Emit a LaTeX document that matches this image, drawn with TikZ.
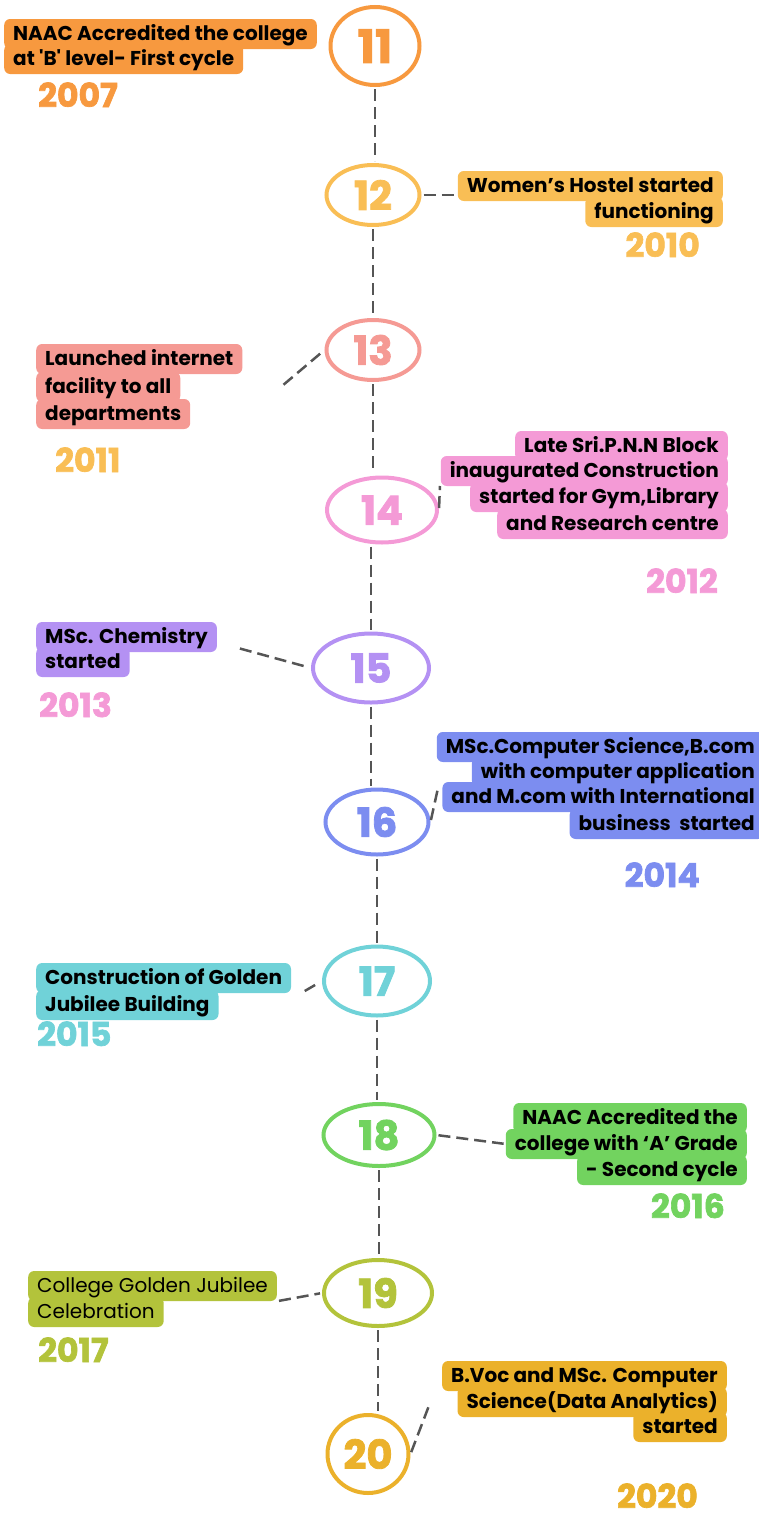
\documentclass[tikz,border=0pt]{standalone}
\usepackage{fontspec}
\setmainfont{Poppins}
\newfontfamily\heavyfont{Poppins}[BoldFeatures={FakeBold=2}]
\usepackage{tikz}
\usetikzlibrary{shapes.geometric}
\definecolor{c11}{HTML}{F7993F}
\definecolor{c12}{HTML}{F9BE55}
\definecolor{c13}{HTML}{F59A94}
\definecolor{c14}{HTML}{F49AD6}
\definecolor{c15}{HTML}{B491F3}
\definecolor{c16}{HTML}{7C8DF0}
\definecolor{c17}{HTML}{70D2D8}
\definecolor{c18}{HTML}{72D35F}
\definecolor{c19}{HTML}{B3C33B}
\definecolor{c20}{HTML}{EBB12B}
\definecolor{dashgray}{HTML}{555555}

\begin{document}
\begin{tikzpicture}[x=1pt,y=-1pt,
  num/.style={ellipse,draw,line width=4pt,inner sep=0pt,font=\heavyfont\bfseries\fontsize{40}{40}\selectfont},
  lbl/.style={rounded corners=6pt,inner xsep=9pt,inner ysep=5pt,text height=16pt,text depth=4pt,font=\bfseries\fontsize{20}{24}\selectfont,text=black},
  yr/.style={inner sep=0pt,font=\heavyfont\bfseries\fontsize{33}{33}\selectfont},
  tline/.style={draw=dashgray,line width=2.5pt,dash pattern=on 12pt off 6pt,shorten <=2pt,shorten >=2pt}]
\useasboundingbox (0,0) rectangle (759,1518);

% 11
\node[num,c11,minimum width=89pt,minimum height=78pt,font=\heavyfont\bfseries\fontsize{46}{46}\selectfont] (E11) at (375,46) {11};
\node[lbl,fill=c11,anchor=base west] (B11b) at (4,65) {at \textquotesingle B\textquotesingle\ level- First cycle};
\node[lbl,fill=c11,anchor=base west] (B11a) at (4,40) {NAAC Accredited the college};
\node[yr,c11,anchor=base west] (Y11) at (38,107) {2007};

% 12
\node[num,c12,minimum width=93pt,minimum height=60pt] (E12) at (373,195) {12};
\node[lbl,fill=c12,anchor=base east] (B12b) at (723,218) {functioning};
\node[lbl,fill=c12,anchor=base east] (B12a) at (723,192) {Women's Hostel started};
\node[yr,c12,anchor=base east] (Y12) at (700,257) {2010};
\draw[tline] (E12.east) -- (E12.east -| B12a.west);

% 13
\node[num,c13,minimum width=93pt,minimum height=60pt] (E13) at (373,350) {13};
\node[lbl,fill=c13,anchor=base west] (B13c) at (36,420) {departments};
\node[lbl,fill=c13,anchor=base west] (B13b) at (36,393) {facility to all};
\node[lbl,fill=c13,anchor=base west] (B13a) at (36,365) {Launched internet};
\node[yr,c12,anchor=base west] (Y13) at (55,472) {2011};
\coordinate (c13) at (282,386);
\draw[tline] (c13) -- (E13.west);

% 14
\node[num,c14,minimum width=110pt,minimum height=65pt] (E14) at (382,510) {14};
\node[lbl,fill=c14,anchor=base east] (B14d) at (728,530) {and Research centre};
\node[lbl,fill=c14,anchor=base east] (B14c) at (728,503) {started for Gym,Library};
\node[lbl,fill=c14,anchor=base east] (B14b) at (728,477) {inaugurated Construction};
\node[lbl,fill=c14,anchor=base east] (B14a) at (728,452) {Late Sri.P.N.N Block};
\node[yr,c14,anchor=base east] (Y14) at (718,593) {2012};
\coordinate (c14) at (440,484);
\draw[tline] (E14.east) -- (c14);

% 15
\node[num,c15,minimum width=116pt,minimum height=69pt] (E15) at (371,668) {15};
\node[lbl,fill=c15,anchor=base west] (B15b) at (36,668) {started};
\node[lbl,fill=c15,anchor=base west] (B15a) at (36,643) {MSc. Chemistry};
\node[yr,c14,anchor=base west] (Y15) at (39,717) {2013};
\coordinate (c15) at (238,648);
\draw[tline] (c15) -- (E15.west);

% 16
\node[num,c16,minimum width=103pt,minimum height=65pt] (E16) at (377,822) {16};
\node[lbl,fill=c16,anchor=base east] (B16d) at (764,830) {business\ \ started};
\node[lbl,fill=c16,anchor=base east] (B16c) at (764,803) {and M.com with International};
\node[lbl,fill=c16,anchor=base east] (B16b) at (764,778) {with computer application};
\node[lbl,fill=c16,anchor=base east] (B16a) at (764,753) {MSc.Computer Science,B.com};
\node[yr,c16,anchor=base east] (Y16) at (700,887) {2014};
\coordinate (c16) at (438,788);
\draw[tline] (E16.east) -- (c16);

% 17
\node[num,c17,minimum width=106pt,minimum height=69pt] (E17) at (377,981) {17};
\node[lbl,fill=c17,anchor=base west] (B17b) at (36,1011) {Jubilee Building};
\node[lbl,fill=c17,anchor=base west] (B17a) at (36,984) {Construction of Golden};
\node[yr,c17,anchor=base west] (Y17) at (37,1046) {2015};
\coordinate (c17) at (303,992);
\draw[tline] (c17) -- (E17.west);

% 18
\node[num,c18,minimum width=111pt,minimum height=62pt] (E18) at (379,1135) {18};
\node[lbl,fill=c18,anchor=base east] (B18c) at (747,1176) {- Second cycle};
\node[lbl,fill=c18,anchor=base east] (B18b) at (747,1150) {college with ‘A’ Grade};
\node[lbl,fill=c18,anchor=base east] (B18a) at (747,1124) {NAAC Accredited the};
\node[yr,c18,anchor=base east] (Y18) at (725,1218) {2016};
\draw[tline] (E18.east) -- (B18b.west);

% 19
\node[num,c19,minimum width=108pt,minimum height=66pt] (E19) at (378,1293) {19};
\node[lbl,fill=c19,anchor=base west,font=\fontsize{20}{24}\selectfont] (B19b) at (28,1318) {Celebration};
\node[lbl,fill=c19,anchor=base west,font=\fontsize{20}{24}\selectfont] (B19a) at (28,1292) {College Golden Jubilee};
\node[yr,c19,anchor=base west] (Y19) at (38,1362) {2017};
\draw[tline] (B19a.south east) -- (E19.west);

% 20
\node[num,c20,minimum width=81pt,minimum height=78pt] (E20) at (368,1454) {20};
\node[lbl,fill=c20,anchor=base east] (B20c) at (727,1433) {started};
\node[lbl,fill=c20,anchor=base east] (B20b) at (727,1408) {Science(Data Analytics)};
\node[lbl,fill=c20,anchor=base east] (B20a) at (727,1382) {B.Voc and MSc. Computer};
\node[yr,c20,anchor=base east] (Y20) at (698,1508) {2020};
\coordinate (c20) at (430,1403);
\draw[tline] (E20.east) -- (c20);

% spine
\draw[tline] (E11.south) -- (E11.south |- E12.north);
\draw[tline] (E12.south) -- (E12.south |- E13.north);
\draw[tline] (E13.south) -- (E13.south |- E14.north);
\draw[tline] (E15.north |- E14.south) -- (E15.north);
\draw[tline] (E15.south) -- (E15.south |- E16.north);
\draw[tline] (E16.south) -- (E16.south |- E17.north);
\draw[tline] (E17.south) -- (E17.south |- E18.north);
\draw[tline] (E18.south) -- (E18.south |- E19.north);
\draw[tline] (E19.south) -- (E19.south |- E20.north);

\end{tikzpicture}
\end{document}
